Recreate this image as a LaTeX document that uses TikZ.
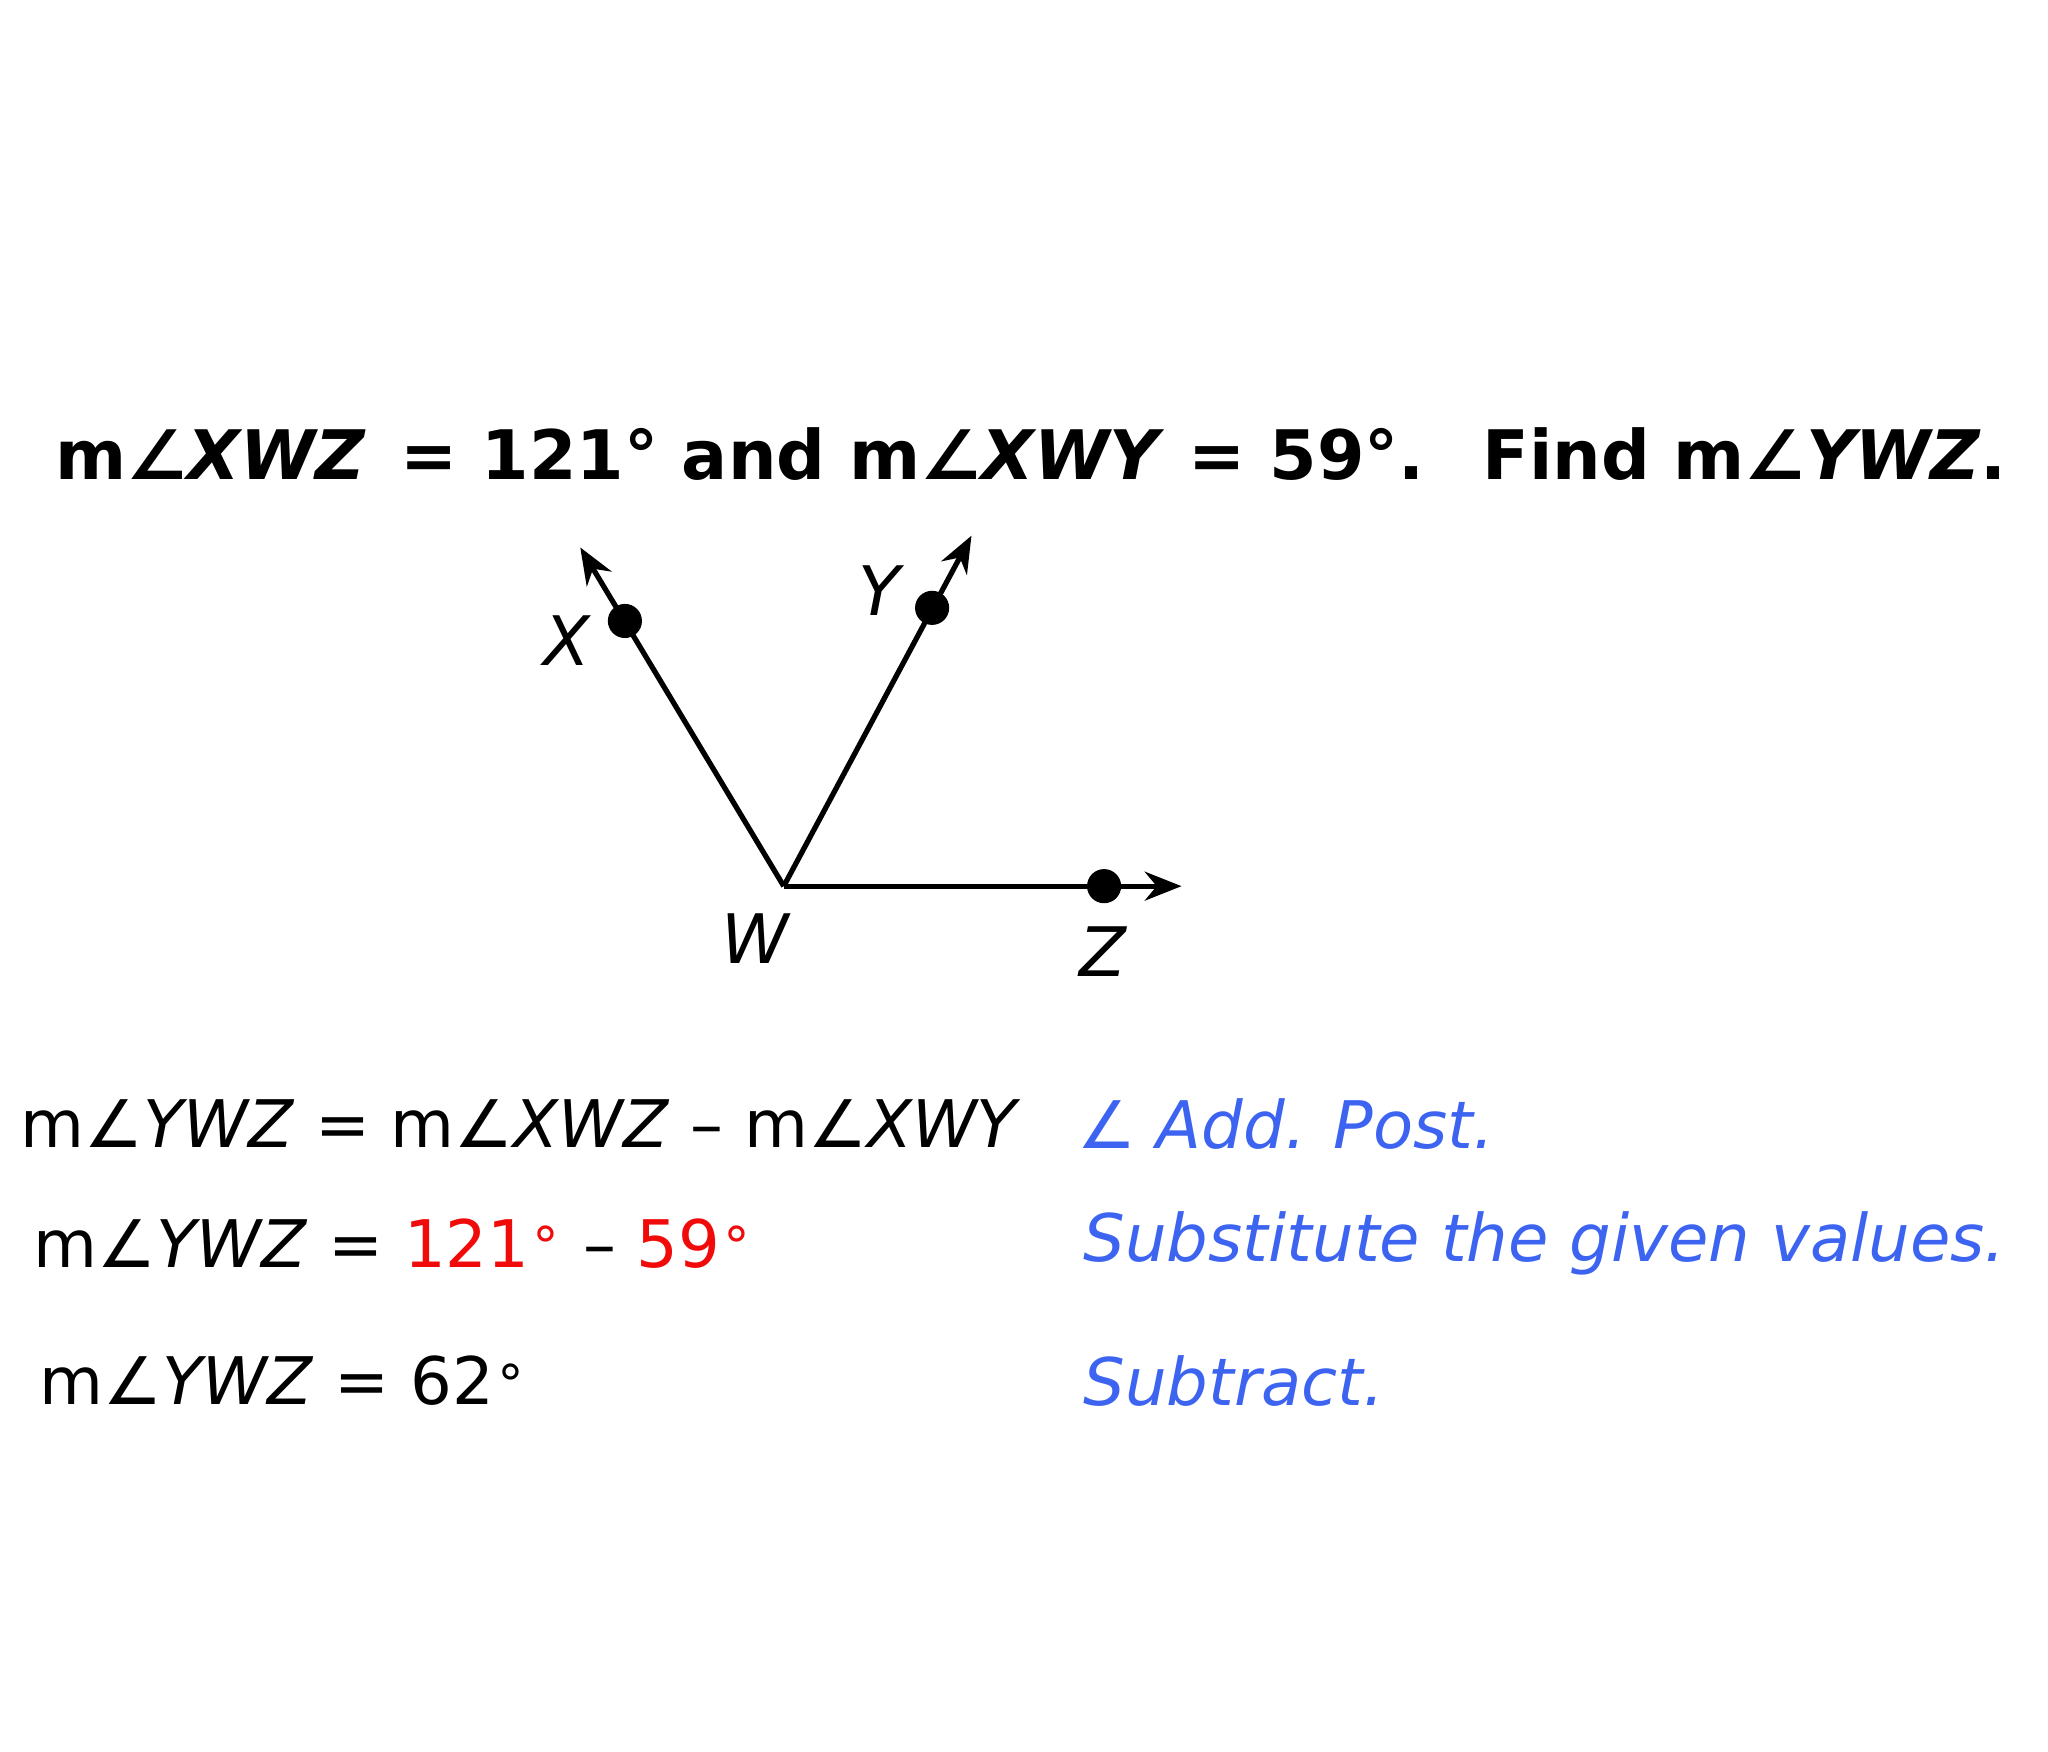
\documentclass[tikz,border=0pt]{standalone}
\usepackage{fontspec}
\setmainfont{DejaVu Sans}
\usetikzlibrary{arrows.meta}
\definecolor{myblue}{RGB}{60,100,240}
\definecolor{myred}{RGB}{240,10,10}
\newcommand{\dg}{\raisebox{0.45ex}{\fontsize{20}{20}\selectfont ∘}}
\begin{document}
\begin{tikzpicture}[x=0.5pt,y=-0.5pt,
  ray/.style={line width=2pt,-{Stealth[length=14pt,width=11pt]}},
  dot/.style={circle,fill=black,inner sep=0pt,minimum size=13pt},
  lbl/.style={font=\fontsize{26}{30}\selectfont\itshape},
  eq/.style={anchor=west,inner sep=0pt,font=\fontsize{25}{30}\selectfont}]
\useasboundingbox (0,0) rectangle (1560,1334);
\node[anchor=west,inner sep=0pt,font=\fontsize{26}{30}\selectfont\bfseries] (title) at (42,346)
 {m∠\textit{XWZ}\enspace = 121° and m∠\textit{XWY} = 59°.\enspace\ Find m∠\textit{YWZ}.};
\coordinate (W) at (597,675);
\coordinate (Xt) at (442,417);
\coordinate (Yt) at (740,408);
\coordinate (Zt) at (900,675);
\draw[ray] (W) -- (Xt);
\draw[ray] (W) -- (Yt);
\draw[ray] (W) -- (Zt);
\node[dot] (X) at (476,473) {};
\node[dot] (Y) at (710,463) {};
\node[dot] (Z) at (841,675) {};
\node[lbl] (lx) at (432,488) {X};
\node[lbl] (ly) at (670,450) {Y};
\node[lbl] (lw) at (575,715) {W};
\node[lbl] (lz) at (840,725) {Z};
\node[eq] (e1) at (15,856) {m∠\textit{YWZ} = m∠\textit{XWZ} – m∠\textit{XWY}};
\node[eq,text=myblue] (r1) at (820,856) {∠ \textit{Add. Post.}};
\node[eq] (e2) at (25,947) {m∠\textit{YWZ} = \textcolor{myred}{121\dg} – \textcolor{myred}{59\dg}};
\node[eq,text=myblue] (r2) at (825,947) {\textit{Substitute the given values.}};
\node[eq] (e3) at (30,1052) {m∠\textit{YWZ} = 62\dg};
\node[eq,text=myblue] (r3) at (825,1052) {\textit{Subtract.}};
\end{tikzpicture}
\end{document}
